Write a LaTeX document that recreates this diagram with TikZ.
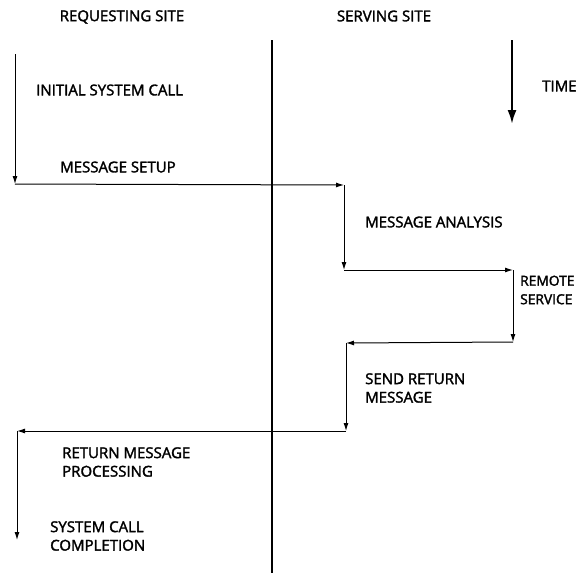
\documentclass[tikz,border=0pt]{standalone}
\usepackage{fontspec}
\setmainfont{Open Sans}
\newcommand\heavytext[1]{\special{pdf:literal direct 2 Tr 0.3 w}#1\special{pdf:literal direct 0 Tr}}
\usetikzlibrary{arrows.meta}
\begin{document}
\begin{tikzpicture}[x=1pt,y=-1pt,
  lbl/.style={anchor=west,inner sep=0pt,align=left,font=\fontsize{15}{18.5}\selectfont},
  flow/.style={line width=1pt,-{Latex[length=8pt,width=5pt]}},
  tick/.style={line width=2.2pt}]
\useasboundingbox (0,0) rectangle (578,573);
% headings
\node[lbl,anchor=center] (req) at (122,17) {\heavytext{REQUESTING SITE}};
\node[lbl,anchor=center] (serv) at (384,16) {\heavytext{SERVING SITE}};
\node[lbl] (time) at (542,86) {\heavytext{TIME}};
% center divider
\coordinate (ctop) at (272,40);
\coordinate (cbot) at (272,573);
\draw[tick] (ctop) -- (cbot);
% time arrow
\coordinate (t1) at (512,40);
\coordinate (t2) at (512,124);
\draw[line width=2.2pt,-{Latex[length=14pt,width=9pt]}] (t1) -- (t2);
% flow points
\coordinate (p0) at (15,54);
\coordinate (p1) at (15,184);
\coordinate (p2) at (344,185);
\coordinate (p3) at (344,270);
\coordinate (p4) at (513,270);
\coordinate (p5) at (513,342);
\coordinate (p6) at (346,343);
\coordinate (p7) at (346,431);
\coordinate (p8) at (17,431);
\coordinate (p9) at (17,540);
\draw[flow] (p0) -- (p1);
\draw[flow] (p1) -- (p2);
\draw[flow] (p2) -- (p3);
\draw[flow] (p3) -- (p4);
\draw[flow] (p4) -- (p5);
\draw[flow] (p5) -- (p6);
\draw[flow] (p6) -- (p7);
\draw[flow] (p7) -- (p8);
\draw[flow] (p8) -- (p9);
% labels
\node[lbl] (isc) at (36,90) {\heavytext{INITIAL SYSTEM CALL}};
\node[lbl] (ms) at (60,167) {\heavytext{MESSAGE SETUP}};
\node[lbl] (ma) at (365,222) {\heavytext{MESSAGE ANALYSIS}};
\node[lbl,font=\fontsize{13.8}{18.5}\selectfont] (rs) at (520,290) {\heavytext{REMOTE}\\\heavytext{SERVICE}};
\node[lbl] (srm) at (365,388) {\heavytext{SEND RETURN}\\\heavytext{MESSAGE}};
\node[lbl] (rmp) at (62,462) {\heavytext{RETURN MESSAGE}\\\heavytext{PROCESSING}};
\node[lbl] (scc) at (50,536) {\heavytext{SYSTEM CALL}\\\heavytext{COMPLETION}};
\end{tikzpicture}
\end{document}
